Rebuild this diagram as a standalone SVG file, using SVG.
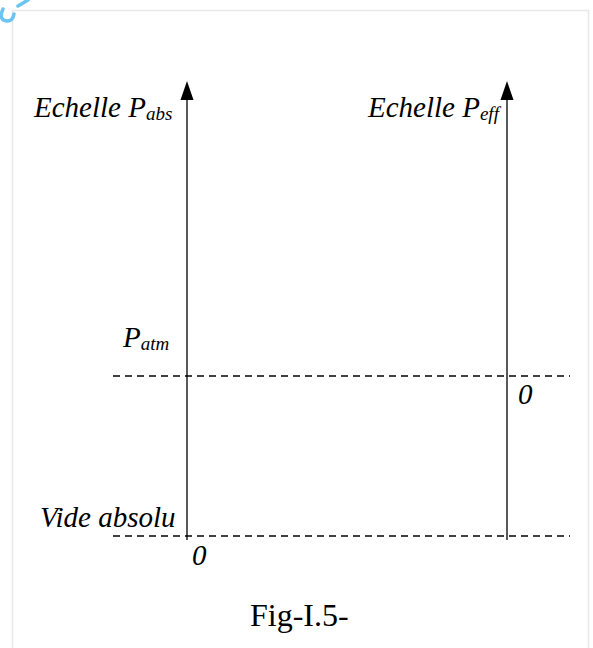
<svg xmlns="http://www.w3.org/2000/svg" width="593" height="648" viewBox="0 0 593 648">
<defs>
<style>
.ax{stroke:#000;stroke-width:1.3;fill:none}
.ds{stroke:#000;stroke-width:1.3;stroke-dasharray:7 5;fill:none}
.t{font-family:"Liberation Serif","Times New Roman",serif;font-style:italic;font-size:29px;fill:#000}
.s{font-size:19px}
.cap{font-family:"Liberation Serif","Times New Roman",serif;font-size:32px;fill:#000}
</style>
</defs>
<rect width="593" height="648" fill="#fff"/>
<rect x="12.5" y="10.5" width="576" height="660" fill="none" stroke="#e8e8e8" stroke-width="1.6"/>
<path d="M3,9 Q-2,20 7,21 Q13,21 14,14 M18,6 Q23,3 28,0" fill="none" stroke="#6cc4f0" stroke-width="3.5" stroke-linecap="round"/>
<g id="connectors">
<line class="ds" x1="113" y1="376" x2="570" y2="376"/>
<line class="ds" x1="113" y1="536" x2="570" y2="536"/>
</g>
<g id="axis-abs">
<path d="M180.5,100 L187,81 L193.5,100 Z" fill="#000"/>
<line class="ax" x1="187" y1="99" x2="187" y2="540"/>
</g>
<g id="axis-eff">
<path d="M500.5,100 L507,81 L513.5,100 Z" fill="#000"/>
<line class="ax" x1="507" y1="99" x2="507" y2="540"/>
</g>
<g id="label-abs"><text class="t" x="34" y="117">Echelle P<tspan class="s" dy="3">abs</tspan></text></g>
<g id="label-eff"><text class="t" x="368" y="117">Echelle P<tspan class="s" dy="3">eff</tspan></text></g>
<g id="label-patm"><text class="t" x="123" y="347">P<tspan class="s" dy="3">atm</tspan></text></g>
<g id="label-zero-eff"><text class="t" x="518" y="404">0</text></g>
<g id="label-vide"><text class="t" x="40" y="527">Vide absolu</text></g>
<g id="label-zero-abs"><text class="t" x="192" y="565">0</text></g>
<g id="caption"><text class="cap" x="250" y="626">Fig-I.5-</text></g>
</svg>
